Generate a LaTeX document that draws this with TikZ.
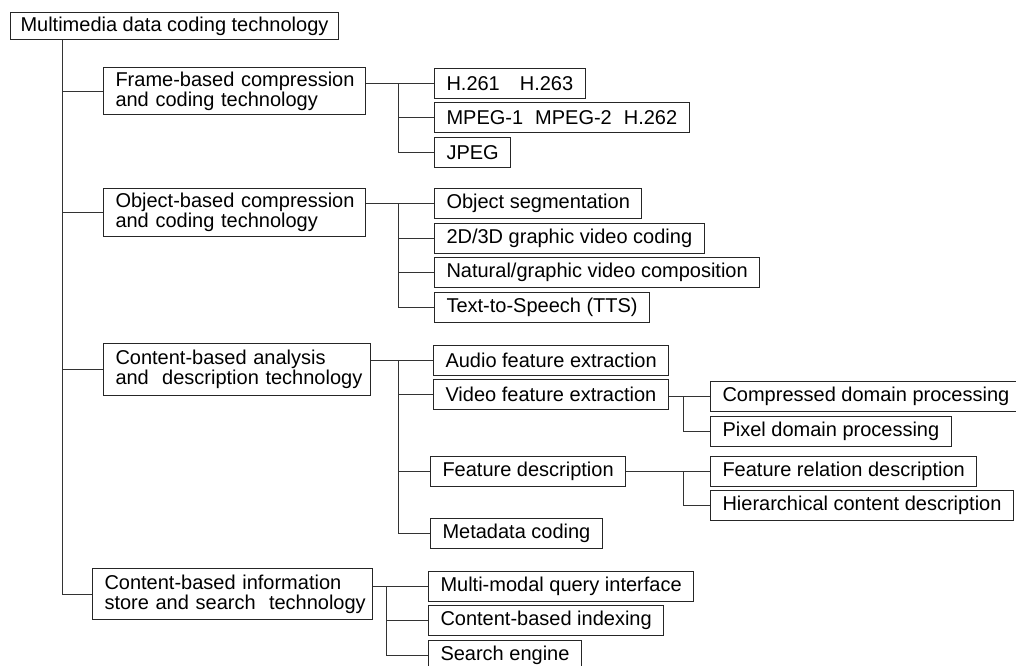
\documentclass[tikz,border=0pt]{standalone}
\usepackage{fontspec}
\setmainfont{Liberation Sans}
\begin{document}
\begin{tikzpicture}[x=1pt,y=-1pt,
  bx/.style={draw=black!85, line width=1pt, anchor=north west, inner xsep=12pt, inner ysep=0pt,
    minimum height=30pt, font=\fontsize{20}{20}\selectfont, align=left},
  conn/.style={draw=black!80, line width=0.9pt}]
\useasboundingbox[fill=white] (0,0) rectangle (1016,665);
% nodes
\node[bx, minimum height=27pt, inner xsep=10pt] (root) at (10,12) {Multimedia data coding technology};
\node[bx, minimum height=47pt, text width=238pt] (frame) at (103,67) {\mbox{Frame-based compression}\\\mbox{and coding technology}};
\node[bx] (h261) at (434,68) {H.261\hspace{1em}H.263};
\node[bx] (mpeg) at (434,102) {MPEG-1\hspace{0.6em}MPEG-2\hspace{0.6em}H.262};
\node[bx] (jpeg) at (434,137) {JPEG};
\node[bx, minimum height=48pt, text width=238pt] (object) at (103,188) {\mbox{Object-based compression}\\\mbox{and coding technology}};
\node[bx] (seg) at (434,188) {Object segmentation};
\node[bx] (gv) at (434,223) {2D/3D graphic video coding};
\node[bx] (nat) at (434,257) {Natural/graphic video composition};
\node[bx] (tts) at (434,292) {Text-to-Speech (TTS)};
\node[bx, minimum height=52pt, text width=243pt] (cana) at (103,343) {\mbox{Content-based analysis}\\\mbox{and\ \ description technology}};
\node[bx] (audio) at (433,345) {Audio feature extraction};
\node[bx] (video) at (433,379) {Video feature extraction};
\node[bx] (cdp) at (710,381) {Compressed domain processing};
\node[bx] (pdp) at (710,416) {Pixel domain processing};
\node[bx] (fdesc) at (430,456) {Feature description};
\node[bx] (frel) at (710,456) {Feature relation description};
\node[bx] (hier) at (710,490) {Hierarchical content description};
\node[bx] (meta) at (430,518) {Metadata coding};
\node[bx, minimum height=51pt, text width=256pt] (store) at (92,568) {\mbox{Content-based information}\\\mbox{store and search\ \ technology}};
\node[bx] (mmq) at (428,571) {Multi-modal query interface};
\node[bx] (cbi) at (428,605) {Content-based indexing};
\node[bx] (se) at (428,640) {Search engine};
% spine coordinates
\path (root.south west) ++(52,0) coordinate (mtop);
\coordinate (s1) at (398,0);
\coordinate (s2) at (683,0);
\coordinate (s3) at (386,0);
% main tree
\draw[conn] (mtop) |- (store.west);
\draw[conn] (mtop |- frame.west) -- (frame.west);
\draw[conn] (mtop |- object.west) -- (object.west);
\draw[conn] (mtop |- cana.west) -- (cana.west);
% frame group
\draw[conn] (frame.east |- h261.west) -- (h261.west);
\draw[conn] (s1 |- h261.west) |- (jpeg.west);
\draw[conn] (s1 |- mpeg.west) -- (mpeg.west);
% object group
\draw[conn] (object.east |- seg.west) -- (seg.west);
\draw[conn] (s1 |- seg.west) |- (tts.west);
\draw[conn] (s1 |- gv.west) -- (gv.west);
\draw[conn] (s1 |- nat.west) -- (nat.west);
% content analysis group
\draw[conn] (cana.east |- audio.west) -- (audio.west);
\draw[conn] (s1 |- audio.west) |- (meta.west);
\draw[conn] (s1 |- video.west) -- (video.west);
\draw[conn] (s1 |- fdesc.west) -- (fdesc.west);
% video
\draw[conn] (video.east |- cdp.west) -- (cdp.west);
\draw[conn] (s2 |- cdp.west) |- (pdp.west);
% feature description
\draw[conn] (fdesc.east |- frel.west) -- (frel.west);
\draw[conn] (s2 |- frel.west) |- (hier.west);
% store group
\draw[conn] (store.east |- mmq.west) -- (mmq.west);
\draw[conn] (s3 |- mmq.west) |- (se.west);
\draw[conn] (s3 |- cbi.west) -- (cbi.west);
\end{tikzpicture}
\end{document}
